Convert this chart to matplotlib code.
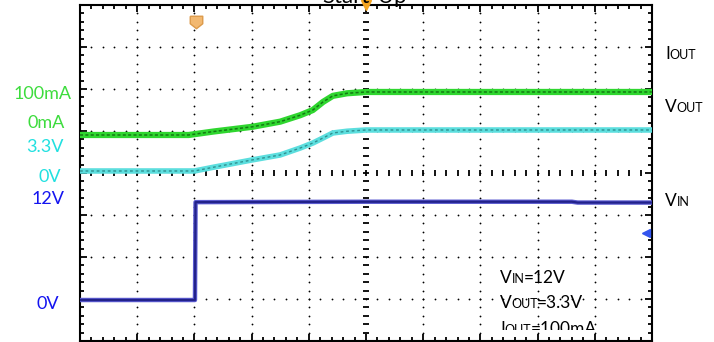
import numpy as np
import matplotlib.pyplot as plt
from matplotlib.path import Path
from matplotlib.transforms import Bbox, TransformedBbox

W, H = 714, 342

# time axis in scope divisions (10 div across the screen)
t_iout = [0, 1.9, 2.33, 3.01, 3.5, 3.85, 4.07, 4.25, 4.42, 4.67, 5.0, 10]
iout_mA = [0, 0, 8, 19, 31, 46, 58, 77, 91, 97, 100, 100]

t_vout = [0, 2.0, 2.33, 3.01, 3.5, 3.85, 4.07, 4.25, 4.42, 4.67, 5.0, 10]
vout_V = [0, 0, 0.3, 0.89, 1.29, 1.85, 2.25, 2.66, 3.06, 3.2, 3.3, 3.3]

t_vin = [0, 2.01, 2.02, 5.0, 8.6, 8.7, 10]
vin_V = [0, 0, 12, 12.05, 12.05, 11.95, 11.95]

left_labels = ['100mA', '0mA', '3.3V', '0V', '12V', '0V']
right_labels = [('I', 'OUT'), ('V', 'OUT'), ('V', 'IN')]
cond_labels = [('V', 'IN', '=12V'), ('V', 'OUT', '=3.3V'), ('I', 'OUT', '=100mA')]

# channel position (div) of zero and units per div
IOUT_ZERO, IOUT_PER_DIV = 4.905, 100 / 1.024
VOUT_ZERO, VOUT_PER_DIV = 4.048, 3.3 / 0.976
VIN_ZERO, VIN_PER_DIV = 0.976, 12 / 2.33

plt.rcParams['font.family'] = ['Lato', 'DejaVu Sans']

fig = plt.figure(figsize=(W / 100, H / 100), dpi=100)
ax = fig.add_axes([80 / W, 1 - 341 / H, 572 / W, 336 / H])
ax.set_xlim(0, 10)
ax.set_ylim(0, 8)

# dotted graticule
minor_y = np.arange(0, 8.01, 0.2)
minor_x = np.arange(0, 10.01, 0.2)
for gx in range(1, 10):
    if gx != 5:
        ax.plot([gx] * len(minor_y), minor_y, ls='none', marker='o', ms=1.3, color='black', mew=0)
for gy in range(1, 8):
    if gy != 4:
        ax.plot(minor_x, [gy] * len(minor_x), ls='none', marker='o', ms=1.3, color='black', mew=0)
# centre cross with ticks
ax.plot([5] * len(minor_y), minor_y, ls='none', marker='_', ms=5, mew=1.3, color='black')
ax.plot(minor_x, [4] * len(minor_x), ls='none', marker='|', ms=5, mew=1.3, color='black')

# traces
iout_div = [IOUT_ZERO + v / IOUT_PER_DIV for v in iout_mA]
vout_div = [VOUT_ZERO + v / VOUT_PER_DIV for v in vout_V]
vin_div = [VIN_ZERO + v / VIN_PER_DIV for v in vin_V]

ax.plot(t_iout, iout_div, color='#2fd62f', lw=4.5, solid_capstyle='butt', zorder=3)
ax.plot(t_iout, iout_div, color='#0b5a0b', lw=1.1, ls=(0, (2, 1.5)), alpha=0.75, zorder=4)
ax.plot(t_vout, vout_div, color='#5cdede', lw=4, solid_capstyle='butt', zorder=3)
ax.plot(t_vout, vout_div, color='#1d6f6f', lw=1.0, ls=(0, (2, 2)), alpha=0.7, zorder=4)
ax.plot(t_vin, vin_div, color='#5a5ad0', lw=3.2, zorder=3)
ax.plot(t_vin, vin_div, color='#22228a', lw=1.6, zorder=4)

# markers: trigger position, trigger point and ch level arrow
shield = Path([(-1, 1), (1, 1), (1, -0.2), (0, -1), (-1, -0.2), (-1, 1)])
ax.plot([2.02], [7.6], marker=shield, ms=9, color='#f2b870', mec='#dc9a4a', ls='none', zorder=5)
ax.plot([5.0], [8.0], marker='v', ms=7, color='#f5a623', ls='none', clip_on=False, zorder=5)
ax.plot([9.9], [2.57], marker='<', ms=6, color='#3355ee', ls='none', zorder=5)

ax.set_xticks(range(0, 11))
ax.set_yticks(range(0, 9))
ax.set_xticks(minor_x, minor=True)
ax.set_yticks(minor_y, minor=True)
ax.tick_params(which='both', direction='in', top=True, right=True,
               labelbottom=False, labelleft=False, width=1.3, color='black')
ax.tick_params(which='major', length=5)
ax.tick_params(which='minor', length=3)
for s in ax.spines.values():
    s.set_linewidth(1.5)

# title, cut at the top of the picture as in the original
fig.text(365 / W, 1 - 3 / H, 'Start-Up', ha='center', va='baseline', fontsize=16)

# left channel labels
left_colors = ['#3ddc3d', '#3ddc3d', '#22e0e0', '#22e0e0', '#1414f0', '#1414f0']
left_x = [43, 46, 45, 50, 48, 48]
left_y = [99, 128, 152, 182, 204, 309]
for txt, c, x, y in zip(left_labels, left_colors, left_x, left_y):
    fig.text(x / W, 1 - y / H, txt, ha='center', va='baseline', fontsize=13, color=c)

renderer = fig.canvas.get_renderer()


def small_caps(x, y, big, small, rest='', clip=None):
    t1 = fig.text(x / W, 1 - y / H, big, va='baseline', fontsize=12.5)
    bb = t1.get_window_extent(renderer)
    t2 = fig.text(bb.x1 / W, 1 - y / H, small, va='baseline', fontsize=9)
    parts = [t1, t2]
    if rest:
        bb2 = t2.get_window_extent(renderer)
        parts.append(fig.text((bb2.x1 - 1) / W, 1 - y / H, rest, va='baseline', fontsize=12.5))
    if clip is not None:
        for p in parts:
            p.set_clip_box(clip)
            p.set_clip_on(True)


for (big, small), y in zip(right_labels, [59, 112, 206]):
    small_caps(665, y, big, small)

cut = TransformedBbox(Bbox([[0, 12 / H], [1, 1]]), fig.transFigure)
for (big, small, rest), y in zip(cond_labels, [283, 308, 334]):
    small_caps(500, y, big, small, rest, clip=cut if y > 320 else None)

fig.savefig('out.png', dpi=100, facecolor='white')
